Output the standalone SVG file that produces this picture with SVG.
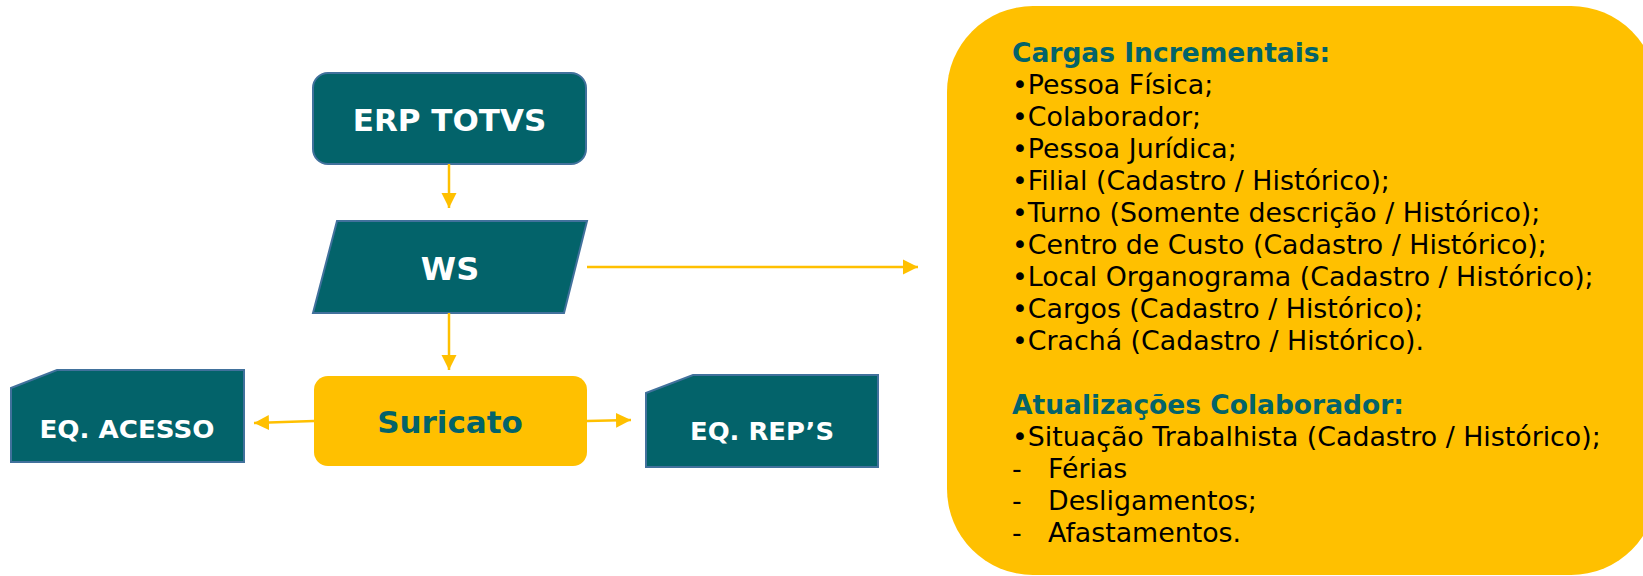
<svg xmlns="http://www.w3.org/2000/svg" width="1643" height="576" viewBox="0 0 1643 576">
<style>
.teal{fill:#03636A;stroke:#41719C;stroke-width:2}
.lbl{font-family:"DejaVu Sans",Verdana,sans-serif;font-weight:bold;fill:#FFFFFF;text-anchor:middle}
.con{stroke:#FFC000;stroke-width:2.5;fill:none}
.body{font-family:"DejaVu Sans",Verdana,sans-serif;font-size:26.8px;fill:#000000}
.head{font-family:"DejaVu Sans",Verdana,sans-serif;font-size:26.5px;font-weight:bold;fill:#03636A}
</style>
<defs>
<marker id="ah" viewBox="0 0 10 10" refX="10" refY="5" markerWidth="6" markerHeight="6.4" orient="auto" markerUnits="strokeWidth">
<path d="M0,0 L10,5 L0,10 Z" fill="#FFC000"/>
</marker>
</defs>
<rect width="1643" height="576" fill="#FFFFFF"/>
<g id="notes">
<rect x="947" y="6" width="710" height="569" rx="86" ry="86" fill="#FFC000"/>
<text class="head" x="1012" y="62">Cargas Incrementais:</text>
<text class="body" x="1012" y="94">•Pessoa Física;</text>
<text class="body" x="1012" y="126">•Colaborador;</text>
<text class="body" x="1012" y="158">•Pessoa Jurídica;</text>
<text class="body" x="1012" y="190">•Filial (Cadastro / Histórico);</text>
<text class="body" x="1012" y="222">•Turno (Somente descrição / Histórico);</text>
<text class="body" x="1012" y="254">•Centro de Custo (Cadastro / Histórico);</text>
<text class="body" x="1012" y="286">•Local Organograma (Cadastro / Histórico);</text>
<text class="body" x="1012" y="318">•Cargos (Cadastro / Histórico);</text>
<text class="body" x="1012" y="350">•Crachá (Cadastro / Histórico).</text>
<text class="head" x="1012" y="414">Atualizações Colaborador:</text>
<text class="body" x="1012" y="446">•Situação Trabalhista (Cadastro / Histórico);</text>
<text class="body" x="1012" y="478">-</text><text class="body" x="1048" y="478">Férias</text>
<text class="body" x="1012" y="510">-</text><text class="body" x="1048" y="510">Desligamentos;</text>
<text class="body" x="1012" y="542">-</text><text class="body" x="1048" y="542">Afastamentos.</text>
</g>
<g id="erp">
<rect class="teal" x="313" y="73" width="273" height="91" rx="15" ry="15"/>
<text class="lbl" x="449.5" y="131" font-size="31">ERP TOTVS</text>
</g>
<g id="ws">
<polygon class="teal" points="337,221 587,221 564,313 313,313"/>
<text class="lbl" x="450" y="280" font-size="32">WS</text>
</g>
<g id="suricato">
<rect x="314" y="376" width="273" height="90" rx="14" ry="14" fill="#FFC000"/>
<text class="lbl" x="450" y="433" font-size="31" style="fill:#03636A">Suricato</text>
</g>
<g id="eq-acesso">
<polygon class="teal" points="57,370 244,370 244,462 11,462 11,388"/>
<text class="lbl" x="127" y="438" font-size="25" textLength="175" lengthAdjust="spacingAndGlyphs">EQ. ACESSO</text>
</g>
<g id="eq-reps">
<polygon class="teal" points="693,375 878,375 878,467 646,467 646,393"/>
<text class="lbl" x="762" y="440" font-size="25" textLength="144" lengthAdjust="spacingAndGlyphs">EQ. REP’S</text>
</g>
<g id="connectors">
<line class="con" x1="449" y1="164" x2="449" y2="208" marker-end="url(#ah)"/>
<line class="con" x1="449" y1="313" x2="449" y2="370" marker-end="url(#ah)"/>
<line class="con" x1="587" y1="267" x2="918" y2="267" marker-end="url(#ah)"/>
<line class="con" x1="314" y1="421" x2="254" y2="423" marker-end="url(#ah)"/>
<line class="con" x1="587" y1="421" x2="631" y2="420" marker-end="url(#ah)"/>
</g>
</svg>
